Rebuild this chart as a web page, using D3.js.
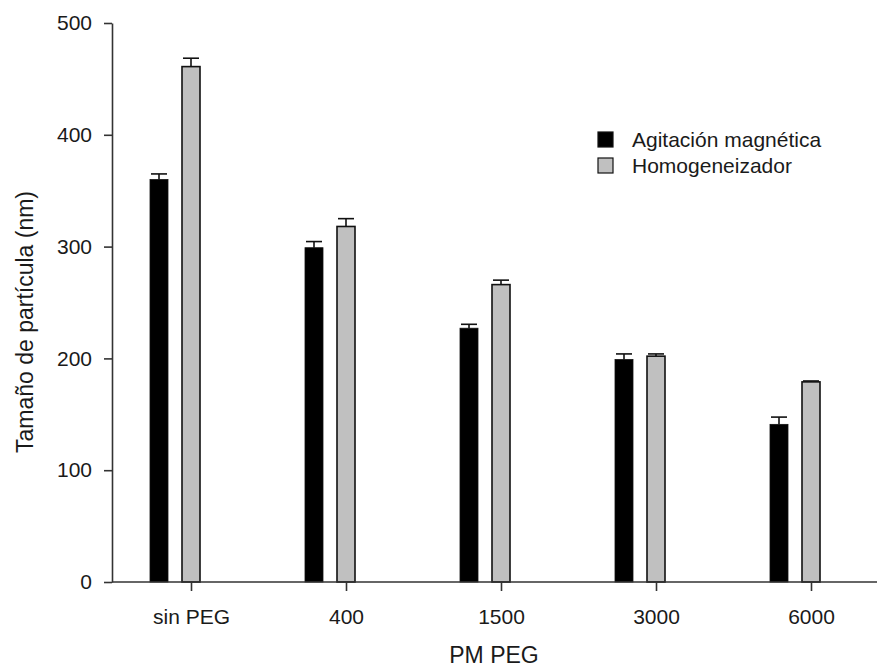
<!DOCTYPE html>
<html>
<head>
<meta charset="utf-8">
<script src="https://cdn.jsdelivr.net/npm/d3@7"></script>
<style>
  body { margin: 0; background: #fff; }
  svg text { font-family: "Liberation Sans", Arial, sans-serif; fill: #1a1a1a; }
</style>
</head>
<body>
<div id="chart"></div>
<script>
(function () {
    "use strict";

    // data
    var categories = ["sin PEG", "400", "1500", "3000", "6000"];
    var seriesNames = ["Agitación magnética", "Homogeneizador"];
    var agitacion = [360, 299, 227, 199, 141];
    var agitacionErr = [5, 5.5, 3.5, 5, 6.5];
    var homogeneizador = [461, 318, 266, 202, 179];
    var homogeneizadorErr = [7.5, 7, 4, 2, 0.8];
    var yTicks = [0, 100, 200, 300, 400, 500];

    var width = 877, height = 670;
    var colors = ["#000000", "#c0c0c0"];

    var svg = d3.select("#chart").append("svg")
        .attr("width", width)
        .attr("height", height);

    var y = d3.scaleLinear().domain([0, 500]).range([582, 23]);
    // tick sits under the second bar of each group
    var x = d3.scalePoint().domain(categories).range([191, 811]);
    var offset = d3.scalePoint().domain(seriesNames).range([-32, 0]);

    var rows = categories.map(function (c, i) {
        return [
            {cat: c, s: seriesNames[0], v: agitacion[i], e: agitacionErr[i], k: 0},
            {cat: c, s: seriesNames[1], v: homogeneizador[i], e: homogeneizadorErr[i], k: 1}
        ];
    });
    var bars = d3.merge(rows);
    var barW = 18;

    // error bars (drawn first so the bar covers the stem bottom)
    var err = svg.append("g").attr("stroke", "#111").attr("stroke-width", 1.6);
    err.selectAll("line.stem").data(bars).enter().append("line")
        .attr("x1", function (d) { return x(d.cat) + offset(d.s); })
        .attr("x2", function (d) { return x(d.cat) + offset(d.s); })
        .attr("y1", function (d) { return y(d.v); })
        .attr("y2", function (d) { return y(d.v + d.e); });
    err.selectAll("line.cap").data(bars).enter().append("line")
        .attr("x1", function (d) { return x(d.cat) + offset(d.s) - 8; })
        .attr("x2", function (d) { return x(d.cat) + offset(d.s) + 8; })
        .attr("y1", function (d) { return y(d.v + d.e); })
        .attr("y2", function (d) { return y(d.v + d.e); });

    svg.append("g").selectAll("rect").data(bars).enter().append("rect")
        .attr("x", function (d) { return x(d.cat) + offset(d.s) - barW / 2; })
        .attr("y", function (d) { return y(d.v); })
        .attr("width", barW)
        .attr("height", function (d) { return y(0) - y(d.v); })
        .attr("fill", function (d) { return colors[d.k]; })
        .attr("stroke", "#111")
        .attr("stroke-width", function (d) { return d.k ? 1.6 : 0.8; });

    // y axis
    var yAxis = svg.append("g")
        .attr("transform", "translate(112,0)")
        .call(d3.axisLeft(y).tickValues(yTicks).tickSize(8).tickSizeOuter(0).tickPadding(12));
    yAxis.selectAll("text").style("font-size", "21px");
    yAxis.selectAll("line, path").attr("stroke", "#333").attr("stroke-width", 1.6);

    // x axis
    var xAxis = svg.append("g")
        .attr("transform", "translate(0," + y(0) + ")")
        .call(d3.axisBottom(x).tickSize(9).tickPadding(18));
    xAxis.select(".domain").remove();
    xAxis.selectAll("text").style("font-size", "21px");
    xAxis.selectAll("line").attr("stroke", "#333").attr("stroke-width", 1.6);
    xAxis.append("line")
        .attr("x1", 112).attr("x2", width)
        .attr("y1", 0).attr("y2", 0)
        .attr("stroke", "#333").attr("stroke-width", 1.6);

    // axis titles
    svg.append("text")
        .attr("transform", "translate(33,322) rotate(-90)")
        .attr("text-anchor", "middle")
        .style("font-size", "23px")
        .text("Tamaño de partícula (nm)");
    svg.append("text")
        .attr("x", 494).attr("y", 663)
        .attr("text-anchor", "middle")
        .style("font-size", "23px")
        .text("PM PEG");

    // legend
    var legend = svg.append("g").attr("transform", "translate(598,132)");
    var item = legend.selectAll("g").data(seriesNames).enter().append("g")
        .attr("transform", function (d, i) { return "translate(0," + i * 26 + ")"; });
    item.append("rect")
        .attr("width", 15).attr("height", 15)
        .attr("fill", function (d, i) { return colors[i]; })
        .attr("stroke", "#111").attr("stroke-width", 1.2);
    item.append("text")
        .attr("x", 34).attr("y", 7.5)
        .attr("dy", "0.35em")
        .style("font-size", "21px")
        .text(function (d) { return d; });
}());
</script>
</body>
</html>
